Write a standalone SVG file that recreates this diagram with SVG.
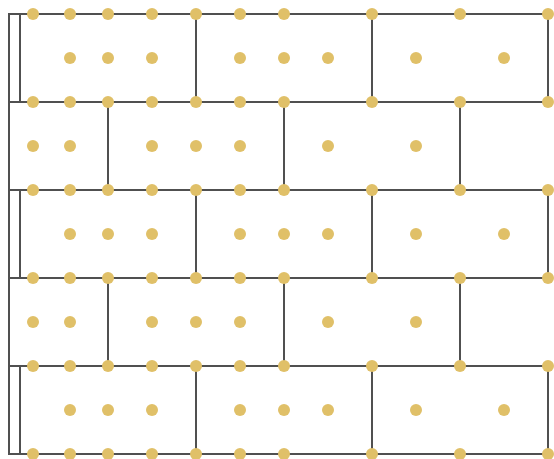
<svg xmlns="http://www.w3.org/2000/svg" width="554" height="459" viewBox="0 0 554 459">
<style>
.w{stroke:#505050;stroke-width:2;fill:none;stroke-linecap:square}
.d{fill:#e0c068}
</style>
<defs>
<circle id="dot" r="6" class="d"/>
</defs>
<rect width="554" height="459" fill="#fff"/>
<g id="connectors">
<path class="w" d="M9 14V454"/>
<path class="w" d="M9 14H548M9 102H548M9 190H548M9 278H548M9 366H548M9 454H548"/>
<path class="w" d="M20 14V102M196 14V102M372 14V102M548 14V102"/>
<path class="w" d="M108 102V190M284 102V190M460 102V190"/>
<path class="w" d="M20 190V278M196 190V278M372 190V278M548 190V278"/>
<path class="w" d="M108 278V366M284 278V366M460 278V366"/>
<path class="w" d="M20 366V454M196 366V454M372 366V454M548 366V454"/>
</g>
<g id="edge-dots">
<g id="line-y14"><use href="#dot" x="33" y="14"/><use href="#dot" x="70" y="14"/><use href="#dot" x="108" y="14"/><use href="#dot" x="152" y="14"/><use href="#dot" x="196" y="14"/><use href="#dot" x="240" y="14"/><use href="#dot" x="284" y="14"/><use href="#dot" x="372" y="14"/><use href="#dot" x="460" y="14"/><use href="#dot" x="548" y="14"/></g>
<g id="line-y102"><use href="#dot" x="33" y="102"/><use href="#dot" x="70" y="102"/><use href="#dot" x="108" y="102"/><use href="#dot" x="152" y="102"/><use href="#dot" x="196" y="102"/><use href="#dot" x="240" y="102"/><use href="#dot" x="284" y="102"/><use href="#dot" x="372" y="102"/><use href="#dot" x="460" y="102"/><use href="#dot" x="548" y="102"/></g>
<g id="line-y190"><use href="#dot" x="33" y="190"/><use href="#dot" x="70" y="190"/><use href="#dot" x="108" y="190"/><use href="#dot" x="152" y="190"/><use href="#dot" x="196" y="190"/><use href="#dot" x="240" y="190"/><use href="#dot" x="284" y="190"/><use href="#dot" x="372" y="190"/><use href="#dot" x="460" y="190"/><use href="#dot" x="548" y="190"/></g>
<g id="line-y278"><use href="#dot" x="33" y="278"/><use href="#dot" x="70" y="278"/><use href="#dot" x="108" y="278"/><use href="#dot" x="152" y="278"/><use href="#dot" x="196" y="278"/><use href="#dot" x="240" y="278"/><use href="#dot" x="284" y="278"/><use href="#dot" x="372" y="278"/><use href="#dot" x="460" y="278"/><use href="#dot" x="548" y="278"/></g>
<g id="line-y366"><use href="#dot" x="33" y="366"/><use href="#dot" x="70" y="366"/><use href="#dot" x="108" y="366"/><use href="#dot" x="152" y="366"/><use href="#dot" x="196" y="366"/><use href="#dot" x="240" y="366"/><use href="#dot" x="284" y="366"/><use href="#dot" x="372" y="366"/><use href="#dot" x="460" y="366"/><use href="#dot" x="548" y="366"/></g>
<g id="line-y454"><use href="#dot" x="33" y="454"/><use href="#dot" x="70" y="454"/><use href="#dot" x="108" y="454"/><use href="#dot" x="152" y="454"/><use href="#dot" x="196" y="454"/><use href="#dot" x="240" y="454"/><use href="#dot" x="284" y="454"/><use href="#dot" x="372" y="454"/><use href="#dot" x="460" y="454"/><use href="#dot" x="548" y="454"/></g>
</g>
<g id="row1"><use href="#dot" x="70" y="58"/><use href="#dot" x="108" y="58"/><use href="#dot" x="152" y="58"/><use href="#dot" x="240" y="58"/><use href="#dot" x="284" y="58"/><use href="#dot" x="328" y="58"/><use href="#dot" x="416" y="58"/><use href="#dot" x="504" y="58"/></g>
<g id="row2"><use href="#dot" x="33" y="146"/><use href="#dot" x="70" y="146"/><use href="#dot" x="152" y="146"/><use href="#dot" x="196" y="146"/><use href="#dot" x="240" y="146"/><use href="#dot" x="328" y="146"/><use href="#dot" x="416" y="146"/></g>
<g id="row3"><use href="#dot" x="70" y="234"/><use href="#dot" x="108" y="234"/><use href="#dot" x="152" y="234"/><use href="#dot" x="240" y="234"/><use href="#dot" x="284" y="234"/><use href="#dot" x="328" y="234"/><use href="#dot" x="416" y="234"/><use href="#dot" x="504" y="234"/></g>
<g id="row4"><use href="#dot" x="33" y="322"/><use href="#dot" x="70" y="322"/><use href="#dot" x="152" y="322"/><use href="#dot" x="196" y="322"/><use href="#dot" x="240" y="322"/><use href="#dot" x="328" y="322"/><use href="#dot" x="416" y="322"/></g>
<g id="row5"><use href="#dot" x="70" y="410"/><use href="#dot" x="108" y="410"/><use href="#dot" x="152" y="410"/><use href="#dot" x="240" y="410"/><use href="#dot" x="284" y="410"/><use href="#dot" x="328" y="410"/><use href="#dot" x="416" y="410"/><use href="#dot" x="504" y="410"/></g>
</svg>
